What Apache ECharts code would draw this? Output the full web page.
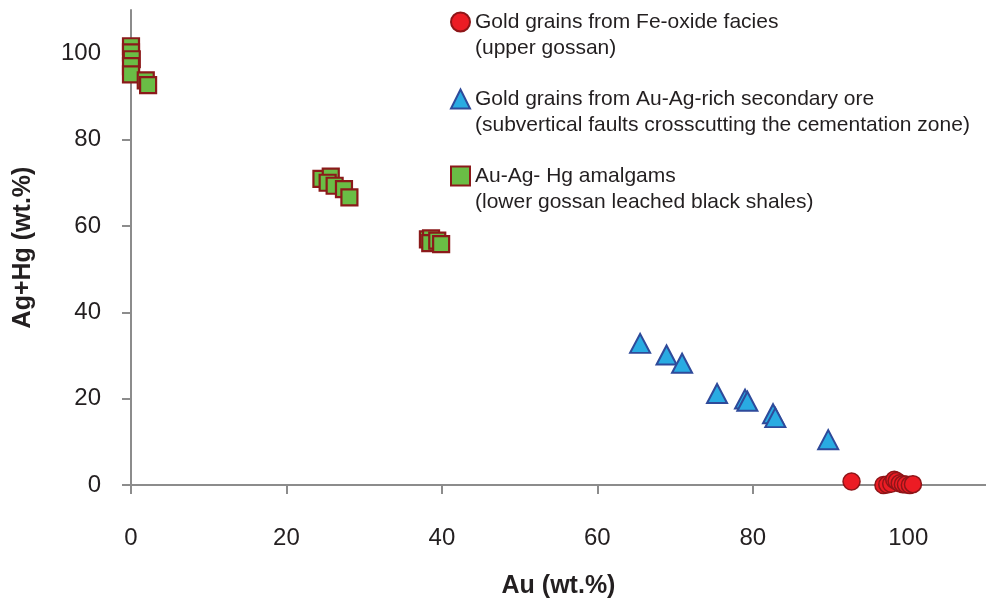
<!DOCTYPE html>
<html>
<head>
<meta charset="utf-8">
<script src="https://cdn.jsdelivr.net/npm/echarts@6/dist/echarts.min.js"></script>
<style>
  html, body { margin: 0; padding: 0; background: #ffffff; }
  #chart { width: 986px; height: 605px; }
</style>
</head>
<body>
<div id="chart"></div>
<script>
// ---- data ----
var seriesNames = [
  'Gold grains from Fe-oxide facies',
  'Gold grains from Au-Ag-rich secondary ore',
  'Au-Ag- Hg amalgams'
];
var seriesSubtitles = [
  '(upper gossan)',
  '(subvertical faults crosscutting the cementation zone)',
  '(lower gossan leached black shales)'
];
var oxideAu   = [92.7, 96.8, 97.3, 97.8, 98.2, 98.5, 98.9, 99.3, 99.7, 100.2, 100.6];
var oxideAgHg = [0.8, 0.0, 0.1, 0.3, 1.2, 0.9, 0.4, 0.2, 0.1, 0.0, 0.2];
var secondaryAu   = [65.5, 68.9, 70.9, 75.4, 79.0, 79.3, 82.6, 82.9, 89.7];
var secondaryAgHg = [32.8, 30.1, 28.2, 21.2, 19.9, 19.4, 16.5, 15.6, 10.5];
var amalgamAu   = [0.0, 0.0, 0.1, 0.0, 0.0, -0.2, 1.9, 2.2,
                   24.5, 25.7, 25.3, 26.2, 27.4, 28.1,
                   38.2, 38.6, 38.5, 39.4, 39.9];
var amalgamAgHg = [101.6, 100.2, 98.6, 97.0, 95.1, 95.8, 93.7, 92.6,
                   70.9, 71.4, 70.0, 69.3, 68.5, 66.6,
                   56.9, 57.1, 56.0, 56.6, 55.8];
var xTicks = [0, 20, 40, 60, 80, 100];
var yTicks = [0, 20, 40, 60, 80, 100];
var xAxisName = 'Au (wt.%)';
var yAxisName = 'Ag+Hg (wt.%)';

function pairs(xs, ys) {
  return xs.map(function (x, i) { return [x, ys[i]]; });
}

var axisColor = '#8c8c8c';
var labelColor = '#231f20';
var font = "'Liberation Sans', Arial, sans-serif";

var chart = echarts.init(document.getElementById('chart'));
chart.setOption({
  animation: false,
  backgroundColor: '#ffffff',
  grid: { left: 131, top: 10, width: 858, height: 475, containLabel: false },
  legend: {
    orient: 'vertical',
    left: 450,
    top: -17,
    padding: 0,
    itemWidth: 19,
    itemHeight: 19,
    itemGap: -1,
    data: seriesNames,
    formatter: function (name) {
      return '\n' + name + '\n' + seriesSubtitles[seriesNames.indexOf(name)];
    },
    textStyle: {
      fontFamily: font,
      fontSize: 21,
      lineHeight: 26,
      color: labelColor
    }
  },
  xAxis: {
    type: 'value',
    min: 0,
    max: 110,
    interval: 20,
    name: xAxisName,
    nameLocation: 'middle',
    nameGap: 89,
    nameTextStyle: { fontFamily: font, fontSize: 25, fontWeight: 'bold', color: labelColor },
    axisLine: { show: true, onZero: false, lineStyle: { color: axisColor, width: 2 } },
    axisTick: { show: true, inside: false, length: 9, customValues: xTicks, lineStyle: { color: axisColor, width: 2 } },
    axisLabel: { customValues: xTicks, margin: 41, fontFamily: font, fontSize: 24, color: labelColor },
    splitLine: { show: false }
  },
  yAxis: {
    type: 'value',
    min: 0,
    max: 110,
    interval: 20,
    name: yAxisName,
    nameLocation: 'middle',
    nameGap: 95,
    nameTextStyle: { fontFamily: font, fontSize: 25, fontWeight: 'bold', color: labelColor },
    axisLine: { show: true, onZero: false, lineStyle: { color: axisColor, width: 2 } },
    axisTick: { show: true, inside: false, length: 9, customValues: yTicks, lineStyle: { color: axisColor, width: 2 } },
    axisLabel: { customValues: yTicks, margin: 30, fontFamily: font, fontSize: 24, color: labelColor },
    splitLine: { show: false }
  },
  series: [
    {
      name: seriesNames[0],
      type: 'scatter',
      symbol: 'circle',
      symbolSize: 17,
      data: pairs(oxideAu, oxideAgHg),
      itemStyle: { color: '#ec1c24', borderColor: '#8e1518', borderWidth: 1.5, opacity: 1 },
      z: 4
    },
    {
      name: seriesNames[1],
      type: 'scatter',
      symbol: 'triangle',
      symbolSize: [20, 19],
      data: pairs(secondaryAu, secondaryAgHg),
      itemStyle: { color: '#29abe2', borderColor: '#2e4a9a', borderWidth: 2, opacity: 1 },
      z: 3
    },
    {
      name: seriesNames[2],
      type: 'scatter',
      symbol: 'rect',
      symbolSize: 16,
      data: pairs(amalgamAu, amalgamAgHg),
      itemStyle: { color: '#6abd45', borderColor: '#8b1a1a', borderWidth: 2.2, opacity: 1 },
      z: 2
    }
  ]
});
</script>
</body>
</html>
